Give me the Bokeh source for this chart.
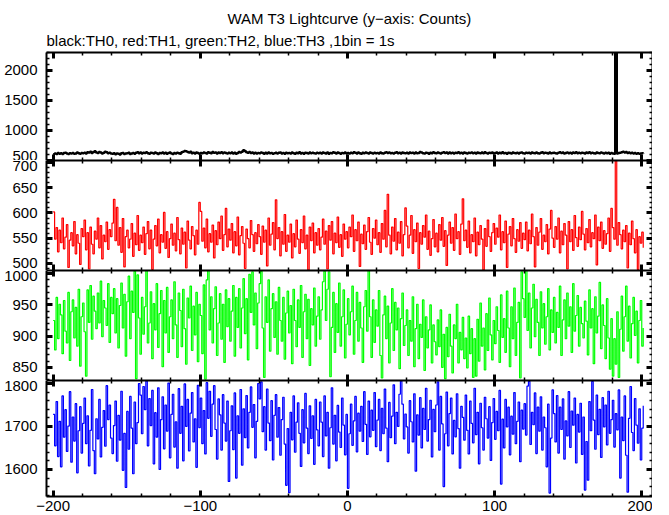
from bokeh.plotting import figure
from bokeh.layouts import column
from bokeh.models import Range1d, LinearAxis, SingleIntervalTicker, Title
from bokeh.embed import file_html
from bokeh.resources import INLINE

# time bins (1 bin = 1 s)
time_s = list(range(-200, 202))

# TH0 (black)
th0 = [
598,612,605,621,608,615,603,619,626,610,604,617,611,622,609,614,628,618,607,620,
616,624,611,633,627,641,622,635,648,630,619,637,628,612,624,640,632,618,626,611,
606,618,600,613,609,597,615,621,604,611,618,626,603,614,620,609,623,631,617,628,
612,625,619,633,615,608,626,620,613,629,618,605,622,616,630,611,624,609,619,627,
614,603,621,611,626,618,609,632,641,655,648,637,629,642,618,625,611,630,620,607,
622,615,628,619,611,632,626,617,639,624,630,612,627,620,634,616,629,621,613,625,
618,630,612,626,609,621,635,627,643,668,652,631,624,637,619,628,614,626,611,622,
615,627,620,608,624,612,629,617,621,606,618,626,611,623,630,614,620,609,625,617,
622,611,628,616,609,624,618,631,613,620,607,626,619,612,629,615,623,617,610,624,
618,625,612,630,621,614,627,609,620,616,632,624,611,628,619,607,622,615,629,613,
620,611,626,618,633,624,612,629,617,608,623,616,630,621,614,627,619,611,625,618,
622,613,628,617,610,624,631,619,627,615,621,612,626,634,618,625,611,629,620,616,
623,614,630,619,625,611,628,616,622,635,627,618,612,626,620,609,624,617,631,621,
615,628,619,611,625,633,620,627,614,629,618,623,610,626,619,632,616,624,612,627,
621,613,626,619,630,617,624,612,628,620,615,627,618,633,622,611,625,619,629,614,
620,627,613,624,618,631,616,622,609,626,619,614,628,621,617,625,611,623,630,618,
612,624,619,626,614,629,621,615,627,618,610,623,632,617,625,620,613,628,616,622,
626,618,611,625,633,619,627,614,621,629,616,624,612,628,620,631,617,623,615,626,
619,612,627,621,634,616,625,618,611,629,622,615,628,620,613,626,617,624,609,620,
614,608,2520,611,619,626,632,641,628,636,622,630,617,624,612,619,609,615,606,612,
618,610]

# TH1 (red)
th1 = [
602,548,571,523,566,541,590,529,552,577,492,546,561,535,583,519,557,540,498,569,
553,586,527,561,489,572,538,519,564,548,590,531,575,509,556,543,582,528,567,553,
580,627,545,611,536,571,522,589,493,553,566,531,548,579,514,560,537,595,526,556,
541,572,518,559,583,529,566,488,548,575,535,588,521,557,542,601,530,563,512,549,
578,536,560,525,591,547,519,570,538,562,491,584,546,529,573,555,517,566,538,621,
603,544,570,531,588,523,559,542,576,511,565,537,582,549,594,526,557,609,533,568,
546,579,521,563,535,592,517,555,573,540,490,568,549,531,585,557,524,561,539,577,
553,518,574,542,566,495,590,536,558,581,527,626,549,571,515,563,538,597,524,556,
542,578,511,559,533,586,548,520,567,541,594,529,556,487,572,545,580,521,561,536,
569,527,552,588,538,564,489,575,546,583,519,560,541,592,532,557,514,578,548,563,
531,572,553,596,524,567,545,582,494,558,539,576,528,563,591,542,518,569,550,586,
537,561,522,579,548,605,533,637,556,519,572,544,589,527,562,540,583,515,557,610,
574,531,556,595,520,567,543,580,490,561,538,575,552,596,528,564,516,549,587,533,
560,523,577,546,591,534,565,496,556,582,540,571,526,598,549,563,518,578,628,545,
566,532,584,521,557,543,590,515,562,537,575,548,487,569,534,586,553,524,561,579,
538,570,552,596,527,563,541,584,492,558,573,535,589,549,522,567,544,581,530,560,
547,582,525,566,539,598,553,493,571,536,562,589,528,556,543,577,519,568,605,550,
532,573,548,590,521,564,537,579,556,489,583,543,567,526,595,551,534,572,547,603,
558,527,569,541,587,533,561,549,596,497,572,545,582,530,565,538,559,590,524,609,
571,548,722,536,581,557,529,566,543,575,491,560,537,584,549,521,567,488,553,540,
562,531]

# TH2 (green)
th2 = [
925,878,962,896,951,934,872,957,908,889,970,861,939,958,897,946,884,975,852,931,
953,907,836,974,922,981,895,964,940,912,969,921,988,899,957,945,917,984,890,962,
936,976,905,960,881,949,985,913,967,868,955,996,896,972,938,1004,832,998,929,871,
962,903,947,1006,889,921,971,864,952,910,984,882,936,973,851,957,905,978,874,931,
958,896,987,918,866,969,941,883,975,912,855,961,929,980,877,948,902,970,859,951,
933,872,982,831,990,1005,910,963,889,944,979,869,921,968,895,951,858,974,915,960,
892,940,981,868,962,914,976,881,945,992,904,960,862,999,938,1003,918,969,880,953,
984,1004,913,834,963,922,990,876,944,968,898,955,871,978,925,892,962,863,937,972,
905,949,856,975,925,883,958,914,981,866,939,967,896,959,853,944,918,977,884,932,
963,895,942,987,1004,925,975,1003,835,914,970,874,952,906,985,884,931,974,865,919,
960,902,939,980,871,925,970,892,954,913,858,947,973,908,1005,931,866,958,890,942,
916,973,869,833,934,964,896,948,857,921,976,877,954,910,945,848,928,969,885,917,
942,869,925,892,963,851,912,951,864,919,898,958,845,931,881,910,950,857,918,891,
870,926,883,942,850,903,832,914,867,935,884,841,918,896,951,857,906,878,930,864,
897,849,932,872,912,834,896,836,927,860,953,884,913,846,936,877,961,902,862,925,
888,947,909,858,966,898,928,874,972,913,851,947,896,977,869,922,954,833,1003,960,
930,1005,909,969,881,945,983,899,959,922,869,971,913,952,887,931,976,878,942,906,
962,889,938,914,980,869,926,958,896,969,916,947,874,984,908,933,965,884,946,920,
897,956,924,870,974,913,944,856,963,905,932,986,880,950,917,864,960,897,847,928,
836,896,855,939,834,911,964,876,931,980,892,948,865,920,962,901,940,857,925,957,
884,913]

# TH3 (blue)
th3 = [
1728,1655,1758,1630,1712,1606,1771,1675,1739,1642,1701,1781,1617,1722,1666,1753,1592,1690,1746,1638,
1707,1766,1660,1725,1608,1691,1786,1644,1590,1718,1671,1763,1629,1698,1737,1654,1795,1716,1750,1673,
1637,1702,1759,1619,1726,1668,1782,1598,1684,1558,1735,1647,1770,1696,1590,1757,1660,1709,1800,1773,
1683,1793,1739,1806,1655,1765,1702,1784,1613,1732,1675,1790,1600,1716,1769,1648,1750,1689,1801,1627,
1728,1775,1652,1711,1603,1788,1684,1747,1620,1799,1700,1763,1643,1731,1779,1664,1718,1605,1796,1697,
1766,1660,1737,1636,1802,1719,1782,1677,1752,1795,1693,1624,1764,1727,1645,1774,1708,1666,1759,1572,
1690,1748,1646,1778,1580,1725,1684,1786,1610,1741,1674,1772,1650,1733,1792,1698,1751,1627,1712,1800,
1764,1804,1688,1746,1645,1787,1708,1667,1760,1622,1726,1774,1675,1744,1633,1716,1768,1659,1563,1695,
1546,1733,1669,1771,1640,1710,1755,1684,1607,1739,1662,1777,1696,1637,1748,1672,1725,1612,1763,1692,
1655,1757,1710,1630,1771,1678,1733,1603,1697,1790,1659,1726,1620,1749,1687,1651,1766,1703,1634,1728,
1556,1683,1752,1656,1713,1770,1641,1731,1689,1747,1665,1781,1705,1635,1759,1676,1738,1691,1779,1653,
1715,1763,1644,1742,1683,1787,1696,1618,1756,1674,1724,1797,1660,1733,1700,1775,1806,1752,1671,1729,
1699,1638,1760,1711,1664,1776,1596,1727,1680,1767,1650,1742,1693,1789,1666,1716,1761,1629,1740,1688,
1750,1804,1645,1770,1706,1560,1683,1780,1655,1730,1766,1636,1714,1676,1776,1695,1603,1747,1721,1668,
1773,1691,1636,1759,1707,1662,1789,1681,1733,1613,1754,1697,1645,1768,1718,1673,1746,1621,1709,1765,
1670,1735,1690,1784,1566,1717,1650,1763,1699,1745,1634,1724,1682,1779,1660,1712,1757,1618,1738,1694,
1753,1680,1794,1805,1658,1733,1704,1778,1637,1745,1689,1769,1645,1722,1697,1606,1752,1545,1673,1785,
1730,1664,1772,1638,1745,1693,1764,1624,1713,1678,1781,1651,1736,1703,1766,1615,1728,1687,1754,1635,
1722,1552,1665,1575,1758,1690,1805,1715,1647,1773,1681,1740,1628,1767,1699,1750,1657,1782,1684,1716,
1761,1652,1730,1692,1785,1580,1722,1667,1771,1633,1547,1719,1793,1686,1644,1765,1703,1661,1741,1622,
1696,1748]

assert len(th0) == len(th1) == len(th2) == len(th3) == len(time_s), (len(th0), len(th1), len(th2), len(th3))

title_text = "WAM T3 Lightcurve (y\u2212axis: Counts)"
subtitle_text = "black:TH0, red:TH1, green:TH2, blue:TH3 ,1bin = 1s"
x_tick_labels = {-200: "\u2212200", -100: "\u2212100", 0: "0", 100: "100", 200: "200"}

FONT = "Liberation Sans"
FS = "15px"
xr = Range1d(-204.5, 207.3)


def style_axis(ax, labels):
    ax.axis_line_width = 2
    ax.axis_line_color = "black"
    ax.major_tick_in = 6
    ax.major_tick_out = 0
    ax.minor_tick_in = 3
    ax.minor_tick_out = 0
    ax.major_tick_line_width = 3
    ax.minor_tick_line_width = 1.5
    ax.major_tick_line_color = "black"
    ax.minor_tick_line_color = "black"
    ax.major_label_text_font = FONT
    if labels:
        ax.major_label_text_color = "black"
        ax.major_label_text_font_size = FS
        ax.major_label_standoff = 9
    else:
        ax.major_label_text_color = None
        ax.major_label_text_font_size = "0px"
        ax.major_label_standoff = 0


def panel(ys, color, lw, yr, major, fh, xlabels=False, top_border=0):
    p = figure(frame_width=606, frame_height=fh, x_range=xr, y_range=Range1d(*yr),
               output_backend="svg", toolbar_location=None,
               x_axis_location=None, y_axis_location=None,
               min_border_left=46, min_border_right=0,
               min_border_top=top_border, min_border_bottom=0)
    p.xgrid.grid_line_color = None
    p.ygrid.grid_line_color = None
    p.outline_line_color = None
    p.background_fill_color = "white"
    p.border_fill_color = "white"
    p.step(time_s, ys, mode="after", line_color=color, line_width=lw)

    left = LinearAxis(ticker=SingleIntervalTicker(interval=major, num_minor_ticks=5))
    style_axis(left, True)
    p.add_layout(left, "left")
    right = LinearAxis(ticker=SingleIntervalTicker(interval=major, num_minor_ticks=5))
    style_axis(right, False)
    p.add_layout(right, "right")
    top = LinearAxis(ticker=SingleIntervalTicker(interval=100, num_minor_ticks=5))
    style_axis(top, False)
    p.add_layout(top, "above")
    bottom = LinearAxis(ticker=SingleIntervalTicker(interval=100, num_minor_ticks=5))
    style_axis(bottom, xlabels)
    if xlabels:
        bottom.major_label_overrides = x_tick_labels
        bottom.major_label_standoff = 4
    p.add_layout(bottom, "below")
    return p


p1 = panel(th0, "black", 2.5, (495, 2300), 500, 108, top_border=52)
p1.add_layout(Title(text=subtitle_text, align="left", text_font=FONT, text_font_size=FS,
                    text_font_style="normal", text_color="black", standoff=7), "above")
p1.add_layout(Title(text=title_text, align="center", text_font=FONT, text_font_size=FS,
                    text_font_style="normal", text_color="black", standoff=0, offset=12), "above")
p2 = panel(th1, "red", 1.2, (486, 704), 50, 110)
p3 = panel(th2, "#00ff00", 1.2, (829, 1005), 50, 110)
p4 = panel(th3, "blue", 1.2, (1537, 1807), 100, 116, xlabels=True)

layout = column(p1, p2, p3, p4)
open("out.html", "w").write(file_html(layout, INLINE))
